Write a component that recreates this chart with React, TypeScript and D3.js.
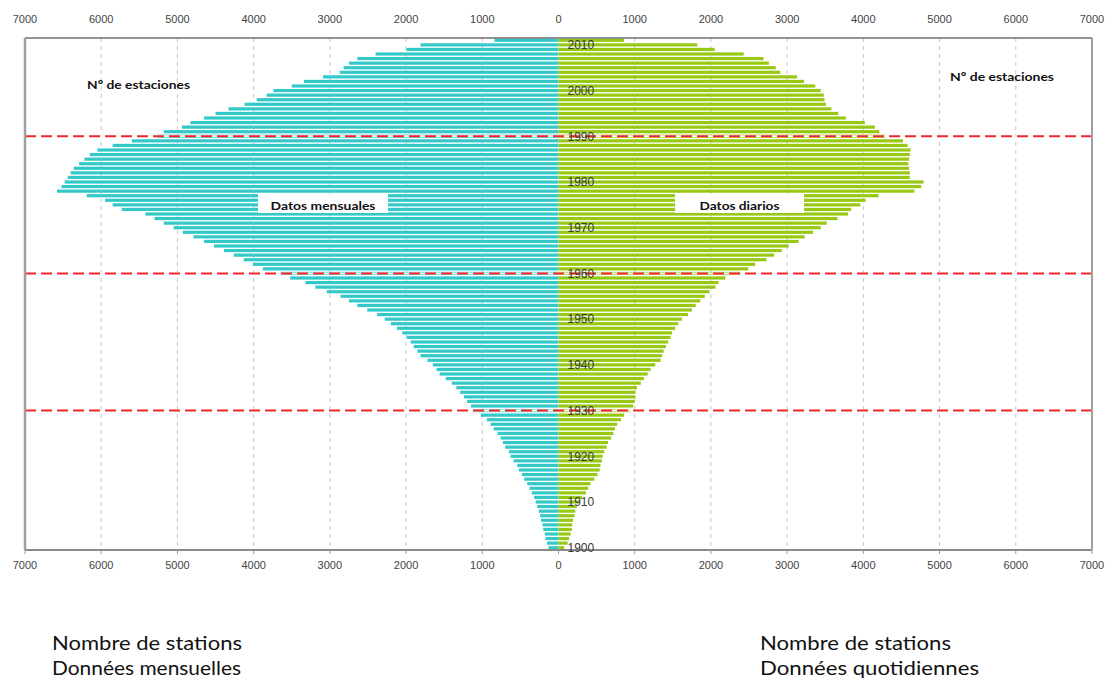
import { useEffect, useRef } from 'react';
import * as d3 from 'd3';

const W = 1108;
const H = 682;

// years 1900 .. 2011, one bar per year
const years: number[] = d3.range(1900, 2012);

// Datos mensuales (left, cyan), 1900 -> 2011
const monthly = [
  130, 150, 170, 180, 200, 210, 230, 240, 260, 280,
  300, 320, 350, 380, 410, 450, 480, 520, 540, 590,
  630, 650, 700, 730, 760, 800, 850, 890, 940, 1020,
  1130, 1150, 1200, 1240, 1290, 1340, 1400, 1480, 1560, 1600,
  1650, 1720, 1810, 1850, 1900, 1940, 1990, 2050, 2120, 2200,
  2280, 2380, 2510, 2640, 2750, 2860, 3040, 3190, 3320, 3520,
  3650, 3880, 4010, 4130, 4260, 4390, 4520, 4650, 4790, 4930,
  5050, 5180, 5300, 5420, 5730, 5850, 5950, 6190, 6580, 6520,
  6480, 6440, 6400, 6360, 6290, 6220, 6150, 6050, 5850, 5600,
  5270, 5180, 4940, 4830, 4650, 4500, 4330, 4120, 3960, 3830,
  3740, 3500, 3340, 3090, 2870, 2820, 2750, 2640, 2400, 1995,
  1810, 840,
];

// Datos diarios (right, green), 1900 -> 2011
const daily = [
  75, 120, 140, 160, 175, 180, 190, 210, 220, 240,
  270, 310, 360, 390, 420, 470, 510, 540, 550, 570,
  580, 600, 630, 650, 690, 720, 740, 770, 820, 860,
  950, 980, 1000, 1010, 1010, 1030, 1080, 1120, 1170, 1210,
  1270, 1340, 1360, 1380, 1410, 1440, 1470, 1490, 1530, 1570,
  1620, 1700, 1750, 1800, 1860, 1920, 1980, 2060, 2100, 2190,
  2390, 2490, 2580, 2730, 2830, 2930, 3020, 3150, 3230, 3340,
  3440, 3520, 3660, 3800, 3840, 3960, 4030, 4200, 4670, 4760,
  4790, 4610, 4610, 4600, 4590, 4600, 4610, 4620, 4580, 4520,
  4290, 4210, 4150, 4020, 3770, 3670, 3580, 3510, 3490, 3480,
  3440, 3370, 3220, 3130, 2910, 2850, 2760, 2690, 2430, 2050,
  1820, 860,
];

const xTicks = [-7000, -6000, -5000, -4000, -3000, -2000, -1000, 0, 1000, 2000, 3000, 4000, 5000, 6000, 7000];
const yearLabels = [1900, 1910, 1920, 1930, 1940, 1950, 1960, 1970, 1980, 1990, 2000, 2010];
const markYears = [1930, 1960, 1990];

const CYAN = '#33c9c9';
const GREEN = '#97c814';

function draw(svgEl: SVGSVGElement) {
  const svg = d3.select(svgEl);
  svg.selectAll('*').remove();

  const left = 25, right = 1092, top = 38, bottom = 550;

  const x = d3.scaleLinear().domain([-7000, 7000]).range([left, right]);
  const y = d3.scaleBand<number>()
    .domain([...years].reverse())
    .range([top, bottom])
    .paddingInner(0.3)
    .paddingOuter(0.15);
  const yc = (yr: number) => (y(yr) ?? 0) + y.bandwidth() / 2;

  svg.append('rect').attr('width', W).attr('height', H).attr('fill', '#fff');

  // dashed vertical grid
  svg.append('g')
    .selectAll('line')
    .data(xTicks.filter((t) => Math.abs(t) !== 7000 && t !== 0))
    .join('line')
    .attr('x1', (d) => x(d)).attr('x2', (d) => x(d))
    .attr('y1', top).attr('y2', bottom)
    .attr('stroke', '#c8c8c8')
    .attr('stroke-width', 1)
    .attr('stroke-dasharray', '4,4');

  // bars
  const rows = years.map((yr, i) => ({ yr, m: monthly[i], d: daily[i] }));
  svg.append('g')
    .selectAll('rect')
    .data(rows)
    .join('rect')
    .attr('x', (d) => x(-d.m))
    .attr('y', (d) => y(d.yr) ?? 0)
    .attr('width', (d) => x(0) - x(-d.m))
    .attr('height', y.bandwidth())
    .attr('fill', CYAN);
  svg.append('g')
    .selectAll('rect')
    .data(rows)
    .join('rect')
    .attr('x', x(0))
    .attr('y', (d) => y(d.yr) ?? 0)
    .attr('width', (d) => x(d.d) - x(0))
    .attr('height', y.bandwidth())
    .attr('fill', GREEN);

  // red dashed markers
  const marks = svg.append('g');
  markYears.forEach((yr) => {
    marks.append('line')
      .attr('x1', left).attr('x2', right)
      .attr('y1', yc(yr)).attr('y2', yc(yr))
      .attr('stroke', '#fff').attr('stroke-width', 2);
    marks.append('line')
      .attr('x1', left).attr('x2', right)
      .attr('y1', yc(yr)).attr('y2', yc(yr))
      .attr('stroke', '#f2262a').attr('stroke-width', 2)
      .attr('stroke-dasharray', '11,5');
  });

  // frame
  const frame = svg.append('g').attr('fill', 'none');
  frame.append('line').attr('x1', left).attr('x2', right).attr('y1', top).attr('y2', top)
    .attr('stroke', '#6e6e6e').attr('stroke-width', 1.5);
  frame.append('line').attr('x1', left).attr('x2', right).attr('y1', bottom).attr('y2', bottom)
    .attr('stroke', '#8a8a8a').attr('stroke-width', 2);
  frame.append('line').attr('x1', left).attr('x2', left).attr('y1', top).attr('y2', bottom)
    .attr('stroke', '#a0a0a0').attr('stroke-width', 2.5);
  frame.append('line').attr('x1', right).attr('x2', right).attr('y1', top).attr('y2', bottom)
    .attr('stroke', '#a0a0a0').attr('stroke-width', 2);

  // bottom tick marks
  svg.append('g')
    .selectAll('line')
    .data(xTicks)
    .join('line')
    .attr('x1', (d) => x(d)).attr('x2', (d) => x(d))
    .attr('y1', bottom).attr('y2', bottom + 4)
    .attr('stroke', '#999');

  // tick labels top & bottom
  [19, 565].forEach((yy) => {
    svg.append('g')
      .selectAll('text')
      .data(xTicks)
      .join('text')
      .attr('x', (d) => x(d))
      .attr('y', yy)
      .attr('dy', '0.35em')
      .attr('text-anchor', 'middle')
      .attr('font-family', 'Liberation Sans, Arial, sans-serif')
      .attr('font-size', 11)
      .attr('fill', '#444')
      .text((d) => String(Math.abs(d)));
  });

  // year labels
  svg.append('g')
    .selectAll('text')
    .data(yearLabels)
    .join('text')
    .attr('x', x(0) + 9)
    .attr('y', (d) => yc(d))
    .attr('dy', '0.36em')
    .attr('font-family', 'Liberation Sans, Arial, sans-serif')
    .attr('font-size', 12)
    .attr('fill', '#3a3a3a')
    .text((d) => String(d));

  const calibri = 'Lato, "Open Sans", sans-serif';

  // annotations
  const notes = [
    { t: 'Nº de estaciones', x: 87, y: 85, w: 103 },
    { t: 'Nº de estaciones', x: 950, y: 77, w: 104 },
  ];
  notes.forEach((n) => {
    svg.append('text')
      .attr('x', n.x).attr('y', n.y).attr('dy', '0.35em')
      .attr('font-family', calibri).attr('font-weight', 'bold').attr('font-size', 12)
      .attr('textLength', n.w).attr('lengthAdjust', 'spacingAndGlyphs')
      .attr('fill', '#111')
      .text(n.t);
  });

  const boxes = [
    { t: 'Datos mensuales', x0: 258, x1: 388, tw: 105 },
    { t: 'Datos diarios', x0: 675, x1: 804, tw: 80 },
  ];
  boxes.forEach((b) => {
    svg.append('rect')
      .attr('x', b.x0).attr('y', 194).attr('width', b.x1 - b.x0).attr('height', 19)
      .attr('fill', '#fff');
    svg.append('text')
      .attr('x', (b.x0 + b.x1) / 2).attr('y', 206).attr('dy', '0.35em')
      .attr('text-anchor', 'middle')
      .attr('font-family', calibri).attr('font-weight', 'bold').attr('font-size', 12)
      .attr('textLength', b.tw).attr('lengthAdjust', 'spacingAndGlyphs')
      .attr('fill', '#111')
      .text(b.t);
  });

  // French captions below
  const captions = [
    { t: 'Nombre de stations', x: 52, y: 643, w: 190 },
    { t: 'Données mensuelles', x: 52, y: 668, w: 189 },
    { t: 'Nombre de stations', x: 760, y: 643, w: 191 },
    { t: 'Données quotidiennes', x: 760, y: 668, w: 219 },
  ];
  captions.forEach((c) => {
    svg.append('text')
      .attr('x', c.x).attr('y', c.y).attr('dy', '0.35em')
      .attr('font-family', calibri).attr('font-size', 19)
      .attr('textLength', c.w).attr('lengthAdjust', 'spacingAndGlyphs')
      .attr('fill', '#111')
      .text(c.t);
  });
}

export default function App() {
  const ref = useRef<SVGSVGElement>(null);
  useEffect(() => {
    if (ref.current) draw(ref.current);
  }, []);
  return (
    <svg
      ref={ref}
      width={W}
      height={H}
      style={{ position: 'absolute', left: 0, top: 0, display: 'block' }}
    />
  );
}
